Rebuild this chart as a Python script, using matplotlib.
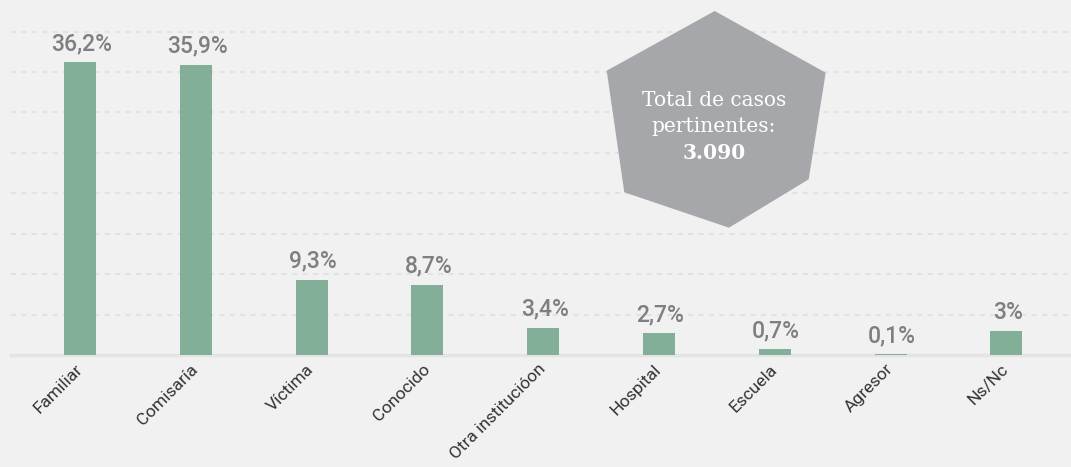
import matplotlib
matplotlib.use("Agg")
import matplotlib.pyplot as plt
from matplotlib.patches import Polygon

categories = ["Familiar", "Comisaría", "Víctima", "Conocido", "Otra institucióon",
              "Hospital", "Escuela", "Agresor", "Ns/Nc"]
values = [36.2, 35.9, 9.3, 8.7, 3.4, 2.7, 0.7, 0.1, 3]
value_labels = ["36,2%", "35,9%", "9,3%", "8,7%", "3,4%", "2,7%", "0,7%", "0,1%", "3%"]
hex_lines = ["Total de casos", "pertinentes:", "3.090"]

BG = "#f1f1f1"
BAR = "#83af99"
W, H = 1071, 467

fig = plt.figure(figsize=(W / 100, H / 100), dpi=100, facecolor=BG)
ax = fig.add_axes([11 / W, 112 / H, 1060 / W, 355 / H])
ax.set_facecolor(BG)

x = list(range(len(categories)))
ax.bar(x, values, width=0.277, color=BAR, zorder=3)

ax.set_xlim(-0.596, 8.558)
ax.set_ylim(0, 43.9)
ax.set_yticks([5, 10, 15, 20, 25, 30, 35, 40])
ax.yaxis.grid(True, color="#e2e2e2", linewidth=1.5, linestyle=(0, (2.4, 2.6)), zorder=0)
ax.tick_params(axis="y", length=0, labelleft=False)
for s in ax.spines.values():
    s.set_visible(False)
ax.axhline(0, color="#e4e4e4", linewidth=2.5, zorder=2, clip_on=False)

ax.set_xticks(x)
ax.set_xticklabels(categories, rotation=45, ha="right", va="center",
                   rotation_mode="anchor", fontsize=12.5, color="#333333",
                   family="Roboto")
ax.tick_params(axis="x", length=0, pad=8.5)

for xi, v, lab in zip(x, values, value_labels):
    ax.annotate(lab, (xi, v), xytext=(1, 5), textcoords="offset points",
                ha="center", va="bottom", fontsize=16.5, color="#7f7f7f",
                family="Roboto", fontweight="medium", zorder=4)

# hexagon badge
verts_px = [(714.7, 11), (825.7, 72.7), (808.7, 179.3), (729, 227.7),
            (624.3, 192.3), (606.7, 70.7)]
verts = [(vx / W, 1 - vy / H) for vx, vy in verts_px]
fig.add_artist(Polygon(verts, closed=True, transform=fig.transFigure,
                       facecolor="#a6a7aa", edgecolor="none", zorder=5))
ys = [101, 127, 153]
for line, yy, wt in zip(hex_lines, ys, ["normal", "normal", "bold"]):
    fig.text(714 / W, 1 - yy / H, line, ha="center", va="center",
             fontsize=14.5, color="white", family="DejaVu Serif",
             fontweight=wt, zorder=6)

fig.savefig("out.png", dpi=100, facecolor=BG)
